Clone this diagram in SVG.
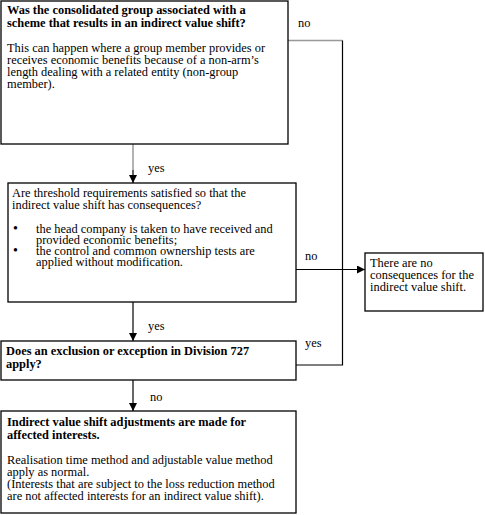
<svg xmlns="http://www.w3.org/2000/svg" width="485" height="515" viewBox="0 0 485 515">
<style>
.box{fill:#fff;stroke:#000;stroke-width:1.3}
.t{font-family:"Liberation Serif","Times New Roman",serif;font-size:12.4px;fill:#000}
.b{font-weight:bold}
.bul{font-size:14px}
.ln{fill:none;stroke:#000;stroke-width:1.2}
.gr{fill:none;stroke:#999;stroke-width:1.5}
</style>
<defs>
<marker id="ah" markerWidth="8" markerHeight="8" refX="8" refY="4" orient="auto" markerUnits="userSpaceOnUse">
<path d="M0,0 L8,4 L0,8 Z" fill="#000"/>
</marker>
</defs>
<rect width="485" height="515" fill="#fff"/>
<g id="connectors">
<path class="gr" d="M288,40.5 H342.5"/>
<path class="ln" d="M342.5,40.5 V365 H296"/>
<path class="gr" d="M133,144 V170"/>
<path class="ln" d="M133,170 V183" marker-end="url(#ah)"/>
<path class="ln" d="M133,302 V341" marker-end="url(#ah)"/>
<path class="ln" d="M296,269.5 H365" marker-end="url(#ah)"/>
<path class="ln" d="M133,380 V411" marker-end="url(#ah)"/>
<text class="t" x="298" y="27">no</text>
<text class="t" x="148" y="172">yes</text>
<text class="t" x="305" y="260">no</text>
<text class="t" x="148" y="330">yes</text>
<text class="t" x="305" y="347">yes</text>
<text class="t" x="150" y="401">no</text>
</g>
<g id="n1">
<rect class="box" x="1" y="1" width="287" height="143" stroke-width="1.6"/>
<text class="t b" x="7" y="14">Was the consolidated group associated with a</text>
<text class="t b" x="7" y="27">scheme that results in an indirect value shift?</text>
<text class="t" x="7" y="52">This can happen where a group member provides or</text>
<text class="t" x="7" y="64">receives economic benefits because of a non-arm’s</text>
<text class="t" x="7" y="76">length dealing with a related entity (non-group</text>
<text class="t" x="7" y="88">member).</text>
</g>
<g id="n2">
<rect class="box" x="8" y="183" width="288" height="119"/>
<text class="t" x="12" y="197">Are threshold requirements satisfied so that the</text>
<text class="t" x="12" y="208.5">indirect value shift has consequences?</text>
<text class="t bul" x="13" y="233">•</text>
<text class="t" x="36" y="233">the head company is taken to have received and</text>
<text class="t" x="36" y="244">provided economic benefits;</text>
<text class="t bul" x="13" y="255">•</text>
<text class="t" x="36" y="255">the control and common ownership tests are</text>
<text class="t" x="36" y="266">applied without modification.</text>
</g>
<g id="n3">
<rect class="box" x="1" y="341" width="295" height="39"/>
<text class="t b" x="6" y="355">Does an exclusion or exception in Division 727</text>
<text class="t b" x="6" y="368">apply?</text>
</g>
<g id="n4">
<rect class="box" x="365" y="253" width="118" height="58"/>
<text class="t" x="370" y="267">There are no</text>
<text class="t" x="370" y="279">consequences for the</text>
<text class="t" x="370" y="291">indirect value shift.</text>
</g>
<g id="n5">
<rect class="box" x="1" y="411" width="295" height="102"/>
<text class="t b" x="7" y="426">Indirect value shift adjustments are made for</text>
<text class="t b" x="7" y="438.5">affected interests.</text>
<text class="t" x="7" y="464">Realisation time method and adjustable value method</text>
<text class="t" x="7" y="476">apply as normal.</text>
<text class="t" x="7" y="488">(Interests that are subject to the loss reduction method</text>
<text class="t" x="7" y="500">are not affected interests for an indirect value shift).</text>
</g>
</svg>
